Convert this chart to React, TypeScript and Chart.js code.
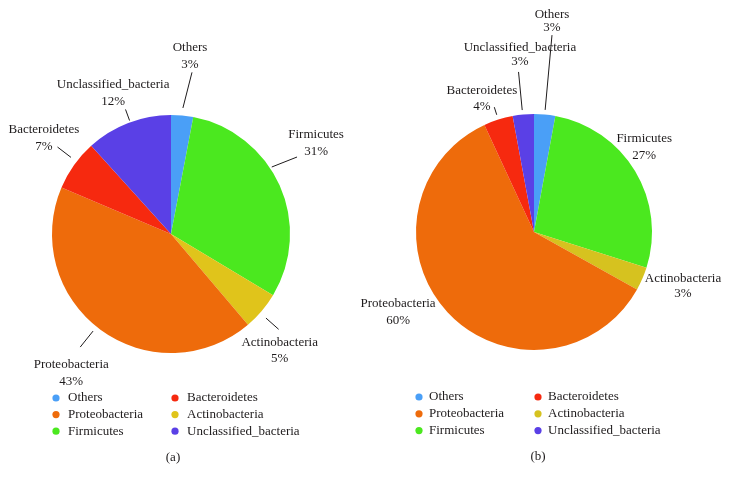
import React, { useEffect, useRef } from "react";
import { Chart, registerables } from "chart.js";

Chart.register(...registerables);

// ---------- data ----------
const categories = [
  "Others",
  "Firmicutes",
  "Actinobacteria",
  "Proteobacteria",
  "Bacteroidetes",
  "Unclassified_bacteria",
];
const valuesA = [3.0, 30.6, 5.2, 42.6, 6.9, 11.7];
const valuesB = [2.9, 27.0, 3.2, 60.0, 4.0, 2.9];
const colorsA = ["#4a9ff7", "#4be81f", "#e0c41b", "#ee6b0b", "#f6290f", "#5a40e6"];
const colorsB = ["#4a9ff7", "#4be81f", "#d6c21f", "#ee6b0b", "#f6290f", "#5a40e6"];
const legendOrder = [
  "Others",
  "Proteobacteria",
  "Firmicutes",
  "Bacteroidetes",
  "Actinobacteria",
  "Unclassified_bacteria",
];
const captions = ["(a)", "(b)"];

// ---------- layout / styling ----------
const FONT = "13px 'Liberation Serif', 'Times New Roman', serif";
const TEXT_COLOR = "#1e1b1c";
const WIDTH = 729;
const HEIGHT = 484;

type LabelPos = { da1: number; da2: number; r1: number; r2: number; tx: number; ty: number; lh: number };

const labelLayoutA: Record<string, LabelPos> = {
  Others: { da1: 0, da2: 2, r1: 7.6, r2: 44, tx: -2, ty: -25, lh: 17 },
  Firmicutes: { da1: -9.5, da2: -7.3, r1: 2, r2: 28.7, tx: 19, ty: -22, lh: 17 },
  Actinobacteria: { da1: 1.2, da2: 1.2, r1: 7.8, r2: 24.8, tx: 1, ty: 13, lh: 16 },
  Proteobacteria: { da1: 2.4, da2: 2.4, r1: 5.5, r2: 26, tx: -9, ty: 18, lh: 17 },
  Bacteroidetes: { da1: 2, da2: 2, r1: 7, r2: 24, tx: -13.6, ty: -17, lh: 17 },
  Unclassified_bacteria: { da1: 1, da2: 1, r1: 1.8, r2: 13.6, tx: -12.4, ty: -24.5, lh: 17 },
};

const labelLayoutB: Record<string, LabelPos> = {
  Others: { da1: 0, da2: 0, r1: 4.6, r2: 79.7, tx: 0, ty: -21, lh: 13 },
  Firmicutes: { da1: 0, da2: 0, r1: 0, r2: 0, tx: 9, ty: -33, lh: 17 },
  Actinobacteria: { da1: 0, da2: 0, r1: 0, r2: 0, tx: 40.7, ty: 0, lh: 15 },
  Proteobacteria: { da1: 0, da2: 0, r1: 0, r2: 0, tx: -49.4, ty: -9, lh: 17 },
  Bacteroidetes: { da1: 0, da2: 0, r1: 5, r2: 13, tx: -12.4, ty: -17, lh: 16 },
  Unclassified_bacteria: { da1: -0.3, da2: -0.3, r1: 4.5, r2: 42.8, tx: 1.4, ty: -24, lh: 14 },
};

type PanelCfg = {
  cx: number;
  cy: number;
  r: number;
  values: number[];
  colors: string[];
  labels: Record<string, LabelPos>;
  legend: { dot1: number; dot2: number; gap: number; y0: number; dy: number };
  caption: string;
  capX: number;
  capY: number;
};

const panels: PanelCfg[] = [
  {
    cx: 171,
    cy: 234,
    r: 119,
    values: valuesA,
    colors: colorsA,
    labels: labelLayoutA,
    legend: { dot1: 56, dot2: 175, gap: 12, y0: 398, dy: 16.6 },
    caption: captions[0],
    capX: 173,
    capY: 458,
  },
  {
    cx: 534,
    cy: 232,
    r: 118,
    values: valuesB,
    colors: colorsB,
    labels: labelLayoutB,
    legend: { dot1: 419, dot2: 538, gap: 10, y0: 397, dy: 16.8 },
    caption: captions[1],
    capX: 538,
    capY: 457,
  },
];

const outerLabelsPlugin = {
  id: "outerLabels",
  afterDatasetsDraw(chart: any, _args: any, opts: any) {
    const ctx = chart.ctx as CanvasRenderingContext2D;
    const meta = chart.getDatasetMeta(0);
    const data = chart.data.datasets[0].data as number[];
    const total = data.reduce((s, v) => s + v, 0);
    const layout: Record<string, LabelPos> = opts.layout;
    ctx.save();
    ctx.font = FONT;
    ctx.fillStyle = TEXT_COLOR;
    ctx.strokeStyle = "#1e1b1c";
    ctx.lineWidth = 1;
    ctx.textAlign = "center";
    ctx.textBaseline = "middle";
    meta.data.forEach((arc: any, i: number) => {
      const name = chart.data.labels[i] as string;
      const L = layout[name];
      if (!L) return;
      const p = arc.getProps(["x", "y", "startAngle", "endAngle", "outerRadius"], true);
      const mid = (p.startAngle + p.endAngle) / 2;
      const a1 = mid + (L.da1 * Math.PI) / 180;
      const a2 = mid + (L.da2 * Math.PI) / 180;
      const d1 = p.outerRadius + L.r1;
      const d2 = p.outerRadius + L.r2;
      const x1 = p.x + d1 * Math.cos(a1);
      const y1 = p.y + d1 * Math.sin(a1);
      const x2 = p.x + d2 * Math.cos(a2);
      const y2 = p.y + d2 * Math.sin(a2);
      if (L.r2 - L.r1 > 0.5) {
        ctx.beginPath();
        ctx.moveTo(x1, y1);
        ctx.lineTo(x2, y2);
        ctx.stroke();
      }
      const pct = Math.round((data[i] * 100) / total) + "%";
      const tx = x2 + L.tx;
      const ty = y2 + L.ty;
      ctx.fillText(name, tx, ty);
      ctx.fillText(pct, tx, ty + L.lh);
    });
    ctx.restore();
  },
};

const gridLegendPlugin = {
  id: "gridLegend",
  afterDraw(chart: any, _args: any, opts: any) {
    const ctx = chart.ctx as CanvasRenderingContext2D;
    const lg = opts.cfg;
    const labels = chart.data.labels as string[];
    const colors = chart.data.datasets[0].backgroundColor as string[];
    ctx.save();
    ctx.font = FONT;
    ctx.textBaseline = "middle";
    ctx.textAlign = "left";
    opts.order.forEach((name: string, k: number) => {
      const idx = labels.indexOf(name);
      const col = Math.floor(k / 3);
      const row = k % 3;
      const dx = col === 0 ? lg.dot1 : lg.dot2;
      const y = lg.y0 + row * lg.dy;
      ctx.fillStyle = colors[idx];
      ctx.beginPath();
      ctx.arc(dx, y, 3.6, 0, Math.PI * 2);
      ctx.fill();
      ctx.fillStyle = TEXT_COLOR;
      ctx.fillText(name, dx + lg.gap, y);
    });
    ctx.textAlign = "center";
    ctx.fillText(opts.caption, opts.capX, opts.capY);
    ctx.restore();
  },
};

function Panel({ cfg }: { cfg: PanelCfg }) {
  const ref = useRef<HTMLCanvasElement | null>(null);
  useEffect(() => {
    if (!ref.current) return;
    const chart = new Chart(ref.current, {
      type: "pie",
      data: {
        labels: categories,
        datasets: [
          {
            data: cfg.values,
            backgroundColor: cfg.colors,
            borderWidth: 0,
          },
        ],
      },
      options: {
        responsive: false,
        maintainAspectRatio: false,
        animation: false,
        layout: {
          padding: {
            left: cfg.cx - cfg.r,
            top: cfg.cy - cfg.r,
            right: WIDTH - (cfg.cx + cfg.r),
            bottom: HEIGHT - (cfg.cy + cfg.r),
          },
        },
        plugins: {
          legend: { display: false },
          tooltip: { enabled: false },
          outerLabels: { layout: cfg.labels },
          gridLegend: {
            cfg: cfg.legend,
            order: legendOrder,
            caption: cfg.caption,
            capX: cfg.capX,
            capY: cfg.capY,
          },
        } as any,
      },
      plugins: [outerLabelsPlugin, gridLegendPlugin],
    });
    return () => chart.destroy();
  }, [cfg]);
  return (
    <canvas
      ref={ref}
      width={WIDTH}
      height={HEIGHT}
      style={{ position: "absolute", left: 0, top: 0, width: WIDTH, height: HEIGHT }}
    />
  );
}

export default function App() {
  return (
    <div
      style={{
        position: "fixed",
        left: 0,
        top: 0,
        width: WIDTH,
        height: HEIGHT,
        background: "#ffffff",
        overflow: "hidden",
      }}
    >
      {panels.map((p, i) => (
        <Panel key={i} cfg={p} />
      ))}
    </div>
  );
}
